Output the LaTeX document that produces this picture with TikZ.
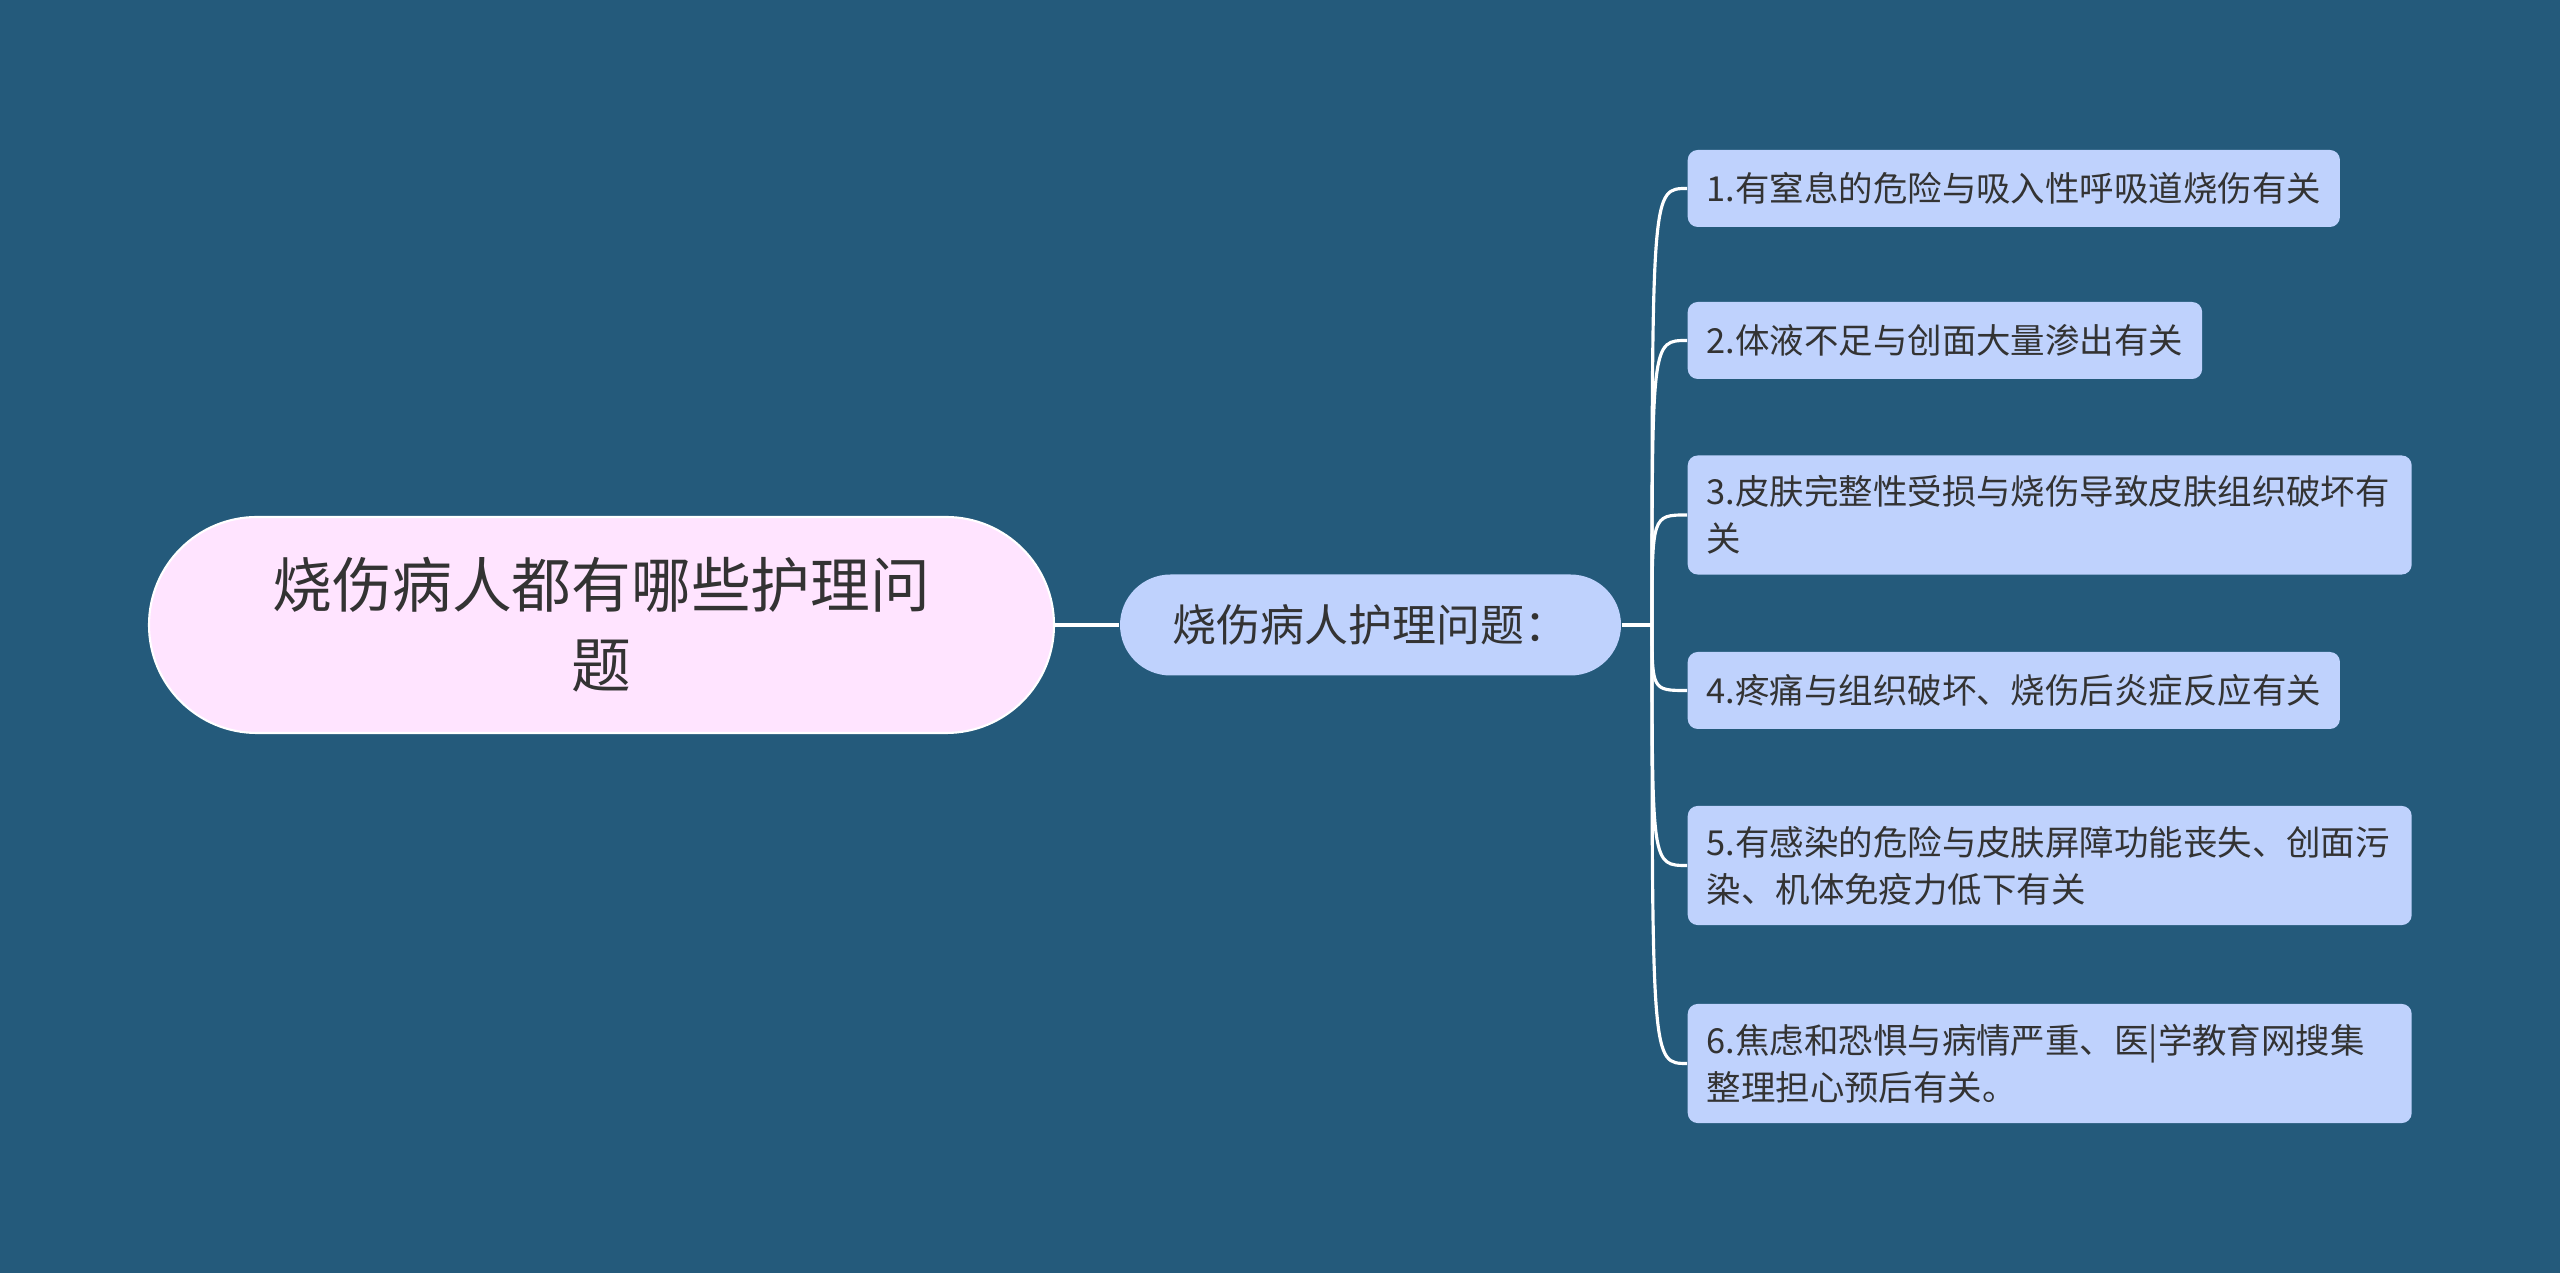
\documentclass[tikz,border=0pt]{standalone}
\usepackage{fontspec}
\setmainfont{Noto Sans CJK SC}
\definecolor{fondo}{HTML}{245A7B}
\definecolor{rosa}{HTML}{FFE4FF}
\definecolor{celeste}{HTML}{BFD2FD}
\definecolor{texto}{HTML}{333333}

\begin{document}
\begin{tikzpicture}[
    raiz/.style={fill=rosa, draw=white, line width=0.6pt, rounded corners=1.08cm, minimum width=9.05cm, minimum height=2.16cm, align=center, text=texto, font=\fontsize{17pt}{22.8pt}\selectfont},
    tema/.style={fill=celeste, rounded corners=0.505cm, minimum width=5.01cm, minimum height=1.01cm, text=texto, font=\fontsize{12.5pt}{15pt}\selectfont},
    hoja/.style={fill=celeste, rounded corners=0.1cm, anchor=west, inner xsep=0.19cm, inner ysep=0.2cm, minimum height=0.77cm, align=left, text=texto, font=\fontsize{9.8pt}{13.4pt}\selectfont},
    rama/.style={white, line width=0.9pt}
]

    \def\xhoja{16.87}
    \def\anchoh{6.86cm}

    %Fondo
    \fill[fondo] (0,0) rectangle (25.6,12.73);

    %Nodos
    \node[raiz] (raiz) at (6.015,6.48) {烧伤病人都有哪些护理问\\题};
    \node[tema] (tema) at (13.705,6.48) {烧伤病人护理问题：};
    \coordinate (hub) at (16.52,6.48);

    %Hojas
    \node[hoja] (h1) at (\xhoja,10.845) {1.有窒息的危险与吸入性呼吸道烧伤有关};
    \node[hoja] (h2) at (\xhoja,9.325) {2.体液不足与创面大量渗出有关};
    \node[hoja,text width=\anchoh] (h3) at (\xhoja,7.58) {3.皮肤完整性受损与烧伤导致皮肤组织破坏有\\关};
    \node[hoja] (h4) at (\xhoja,5.825) {4.疼痛与组织破坏、烧伤后炎症反应有关};
    \node[hoja,text width=\anchoh] (h5) at (\xhoja,4.075) {5.有感染的危险与皮肤屏障功能丧失、创面污\\染、机体免疫力低下有关};
    \node[hoja,text width=\anchoh] (h6) at (\xhoja,2.095) {6.焦虑和恐惧与病情严重、医|学教育网搜集\\整理担心预后有关。};

    %Ramas
    \draw[rama, line width=1.15pt] (raiz.east) -- (tema.west);
    \draw[rama] (tema.east) -- (hub);
    \foreach \i in {1,...,6}{
        \draw[rama] (hub) .. controls (hub |- h\i.west) .. (h\i.west);
    }

\end{tikzpicture}
\end{document}
